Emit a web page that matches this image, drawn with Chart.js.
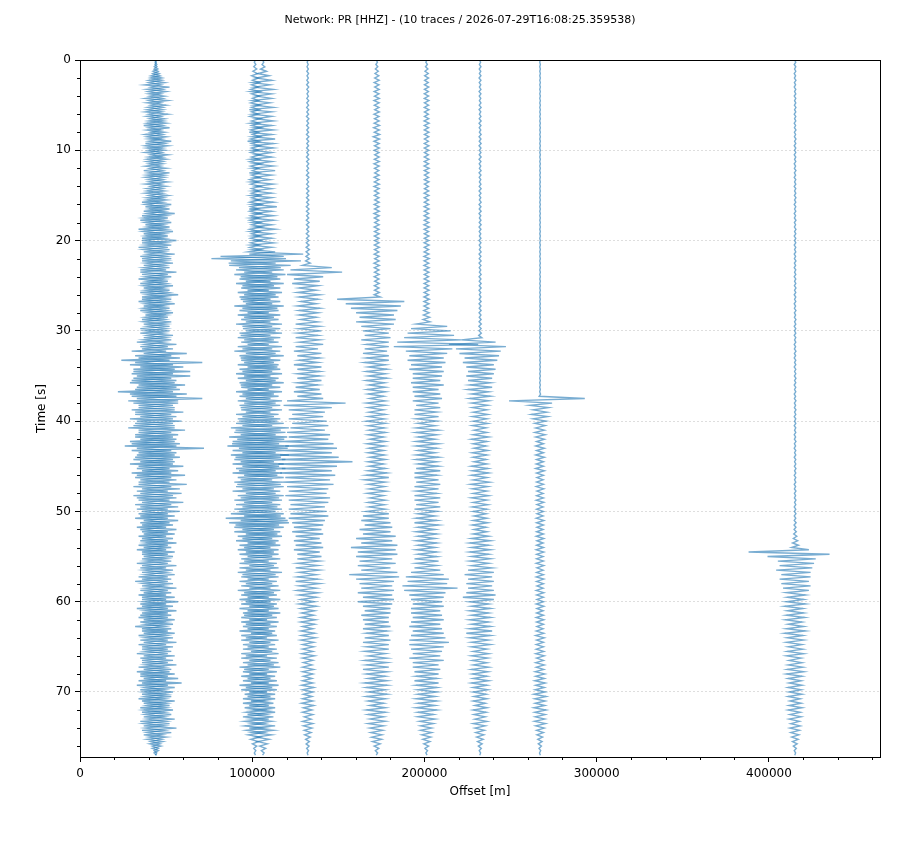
<!DOCTYPE html>
<html>
<head>
<meta charset="utf-8">
<script src="https://cdn.jsdelivr.net/npm/chart.js@4.4.1/dist/chart.umd.min.js"></script>
<style>
  html, body { margin: 0; padding: 0; background: #fff; }
</style>
</head>
<body>
<canvas id="chart" width="920" height="860"></canvas>
<script>
const title = "Network: PR [HHZ] - (10 traces / 2026-07-29T16:08:25.359538)";

// station offsets in m, one per trace
const offsets = [44000, 44000, 101600, 106300, 132200, 172300, 201200, 232300, 267100, 415200];

// sample spacing of the swings below, in s
const dt = 0.25;

// swing size of each trace, in km of offset, every 0.25 s from 0 to 77 s (one row = 5 s)
const trace1a = [
  0.3, 0.4, 0.6, 0.9, 1.2, 1.6, 2, 2.8, 3.5, 4, 5, 6.5, 8, 5, 6, 4, 5, 6, 7, 5,
  6, 4.5, 4, 6, 7, 5, 5, 4, 6, 7, 8, 5, 5, 6, 6, 4, 9, 6, 7, 5,
  5, 6, 7, 4, 6, 5, 4, 6, 6, 7, 8, 5, 5, 4, 7, 6, 6, 5, 5, 6,
  7, 5, 6, 8, 9, 6, 8, 7, 11, 8, 7, 9, 9, 6, 8, 10, 10, 7, 7, 8,
  12, 8, 9, 10, 8, 7, 11, 9, 9, 8, 10, 7, 8, 9, 12, 8, 9, 10, 7, 9,
  10, 7, 8, 9, 13, 8, 9, 10, 11, 7, 8, 9, 10, 6, 7, 8, 9, 7, 8, 9,
  8, 9, 10, 7, 9, 11, 12, 9, 10, 14, 18, 12, 14, 20, 27, 15, 16, 13, 20, 14,
  20, 13, 12, 15, 17, 11, 14, 22, 18, 14, 27, 16, 13, 10, 11, 14, 16, 12, 12, 15,
  15, 12, 11, 16, 17, 10, 13, 12, 12, 15, 14, 18, 28, 14, 12, 11, 14, 13, 11, 15,
  16, 11, 13, 14, 17, 12, 12, 10, 18, 13, 14, 11, 15, 13, 12, 10, 16, 12, 13, 11,
  14, 10, 11, 12, 13, 9, 10, 11, 12, 8, 11, 10, 10, 9, 12, 10, 9, 11, 11, 8,
  10, 8, 9, 11, 12, 9, 10, 8, 11, 10, 9, 12, 10, 8, 12, 9, 9, 10, 11, 8,
  13, 9, 10, 11, 12, 8, 9, 10, 11, 9, 10, 12, 9, 8, 11, 10, 10, 9, 12, 10,
  10, 8, 9, 11, 11, 9, 10, 8, 12, 10, 9, 11, 11, 9, 13, 10, 15, 11, 11, 9,
  10, 8, 9, 10, 11, 7, 8, 9, 10, 8, 9, 7, 11, 9, 8, 7, 12, 8, 9, 7,
  6, 5, 4, 3.5, 3, 2, 1.5, 1, 0.5
];
const trace1b = [
  0.2, 0.3, 0.5, 0.7, 1, 1.4, 1.8, 2.5, 3, 3.5, 4, 3, 3, 4, 4.5, 3, 3.5, 4, 4, 3,
  3, 4, 5, 3.5, 4, 3, 3.5, 4.5, 5, 4, 4, 3, 3, 4, 5, 3.5, 4, 5, 6, 4,
  4, 3.5, 3, 4, 5, 4, 4, 3, 3.5, 4, 4.5, 5, 6, 4, 4, 3.5, 3, 4, 5, 4,
  4, 4.5, 5, 4, 6, 5, 4, 5, 5, 6, 7, 5, 6, 4.5, 5, 6, 7, 5, 6, 5,
  8, 6, 6, 7, 7, 5, 5, 6, 8, 6, 6, 5, 7, 6, 9, 7, 6, 5, 5, 6,
  7, 5, 6, 7, 5, 6, 8, 6, 6, 5, 7, 6, 5, 6, 6, 5, 7, 6, 5, 6,
  6, 5, 5, 6, 7, 5, 6, 7, 8, 6, 7, 9, 10, 8, 12, 10, 9, 11, 13, 10,
  11, 9, 14, 11, 10, 12, 12, 10, 15, 12, 11, 13, 13, 10, 10, 11, 12, 9, 9, 10,
  11, 10, 13, 11, 10, 9, 12, 10, 9, 11, 14, 12, 11, 9, 10, 11, 12, 10, 9, 10,
  10, 8, 8, 9, 11, 9, 9, 8, 10, 9, 8, 7, 9, 10, 11, 8, 8, 9, 9, 7,
  8, 7, 9, 7, 7, 8, 8, 6, 9, 7, 7, 6, 8, 7, 6, 7, 7, 6, 8, 7,
  7, 6, 6, 7, 8, 6, 7, 6, 6, 7, 8, 7, 7, 5, 6, 7, 7, 6, 8, 6,
  7, 6, 8, 7, 6, 7, 9, 7, 7, 6, 6, 5, 8, 7, 7, 6, 6, 7, 7, 6,
  8, 7, 6, 7, 7, 6, 8, 7, 6, 5, 7, 8, 9, 7, 7, 6, 8, 7, 6, 5,
  7, 6, 6, 5, 8, 6, 5, 6, 7, 5, 6, 5, 5, 6, 7, 5, 6, 5, 5, 4,
  4, 3.5, 3, 2.5, 2, 1.5, 1, 0.6, 0.3
];
const trace2 = [
  0.3, 0.4, 0.5, 0.7, 1, 1.2, 1.5, 2, 2, 1.5, 2.5, 2, 2, 2.5, 3, 2, 2.5, 1.5, 2, 2.5,
  3, 2, 2.5, 2, 2, 3, 3, 2, 2.5, 2, 3.5, 2.5, 2, 1.5, 3, 2.5, 2.5, 2, 3, 2,
  2, 2.5, 3, 2, 2.5, 3, 3.5, 2.5, 2, 1.5, 3, 2, 2.5, 3, 2, 2.5, 3, 2, 2.5, 2,
  3, 2, 2.5, 3, 3.5, 2.5, 2, 3, 3, 2.5, 2.5, 3, 3, 2, 4, 3, 2.5, 2, 3, 2.5,
  3, 2.5, 2.5, 3, 3.5, 4, 28, 20, 18, 14, 12, 15, 15, 11, 10, 12, 13, 9, 9, 11,
  11, 8, 8, 10, 12, 9, 9, 7, 10, 12, 13, 9, 8, 10, 11, 8, 9, 11, 10, 7,
  12, 9, 9, 10, 11, 8, 8, 10, 10, 12, 12, 9, 9, 8, 11, 10, 13, 9, 10, 11,
  9, 10, 12, 9, 10, 8, 8, 11, 11, 9, 9, 10, 12, 9, 10, 8, 9, 11, 11, 10,
  13, 11, 10, 14, 15, 12, 12, 15, 17, 13, 14, 16, 19, 13, 12, 14, 15, 12, 11, 13,
  14, 11, 12, 13, 13, 10, 10, 12, 15, 11, 11, 13, 12, 10, 14, 12, 10, 11, 13, 12,
  12, 14, 15, 17, 19, 15, 14, 12, 11, 12, 13, 10, 10, 11, 12, 9, 9, 10, 11, 9,
  10, 8, 8, 9, 11, 9, 9, 10, 12, 8, 8, 9, 10, 8, 9, 10, 11, 8, 8, 9,
  9, 8, 11, 9, 8, 7, 10, 8, 7, 8, 9, 7, 8, 9, 10, 8, 7, 8, 9, 7,
  8, 7, 10, 8, 7, 8, 9, 7, 11, 9, 8, 7, 7, 8, 9, 7, 8, 9, 10, 8,
  7, 6, 9, 7, 6, 7, 8, 6, 7, 5, 6, 7, 8, 6, 5, 6, 6, 5, 5, 4,
  3, 2.5, 2, 1.5, 1, 0.7, 0.5, 0.4, 0.3
];
const trace3 = [
  0.3, 0.4, 0.6, 1, 1.5, 2, 3, 3.5, 4, 5, 6, 4, 5, 6, 7, 5, 4, 5, 6, 4,
  5, 6, 8, 5, 6, 5, 4, 6, 7, 5, 5, 6, 8, 5, 6, 7, 9, 6, 5, 6,
  6, 5, 4, 5, 7, 5, 5, 6, 6, 7, 8, 5, 5, 4, 7, 6, 4, 5, 6, 5,
  7, 5, 5, 6, 6, 8, 8, 5, 5, 6, 7, 6, 6, 5, 5, 7, 7, 5, 6, 5,
  5, 6, 7, 5, 6, 7, 8, 12, 30, 22, 20, 16, 14, 12, 11, 13, 13, 10, 10, 12,
  12, 10, 9, 11, 11, 9, 13, 10, 10, 12, 12, 9, 9, 10, 11, 9, 10, 11, 12, 10,
  10, 11, 13, 10, 11, 9, 9, 11, 12, 10, 10, 12, 13, 10, 11, 9, 9, 10, 12, 11,
  11, 9, 10, 12, 13, 10, 9, 11, 12, 9, 10, 11, 11, 10, 13, 11, 10, 9, 12, 10,
  14, 12, 12, 15, 16, 13, 13, 14, 15, 12, 18, 15, 14, 12, 12, 15, 16, 13, 13, 12,
  12, 13, 14, 11, 11, 12, 13, 11, 15, 12, 12, 10, 10, 12, 13, 11, 11, 10, 12, 11,
  14, 12, 11, 13, 13, 15, 16, 12, 12, 10, 10, 11, 12, 9, 9, 10, 11, 9, 10, 9,
  9, 10, 11, 8, 8, 9, 10, 11, 12, 9, 9, 8, 10, 9, 8, 10, 11, 8, 9, 10,
  10, 8, 8, 9, 9, 10, 11, 8, 8, 9, 10, 8, 9, 7, 7, 8, 10, 9, 8, 7,
  9, 8, 7, 9, 10, 8, 8, 9, 9, 10, 11, 8, 8, 7, 9, 8, 7, 9, 10, 8,
  8, 7, 9, 7, 7, 6, 8, 7, 6, 7, 9, 6, 7, 5, 6, 7, 8, 6, 6, 5,
  4, 3.5, 3, 2.5, 2, 1.5, 1, 0.6, 0.3
];
const trace4 = [
  0.2, 0.3, 0.3, 0.4, 0.4, 0.5, 0.5, 0.4, 0.4, 0.5, 0.5, 0.6, 0.6, 0.5, 0.5, 0.4, 0.4, 0.5, 0.6, 0.5,
  0.5, 0.6, 0.6, 0.5, 0.5, 0.7, 0.7, 0.5, 0.5, 0.6, 0.6, 0.5, 0.5, 0.7, 0.7, 0.6, 0.6, 0.5, 0.5, 0.6,
  0.6, 0.5, 0.5, 0.7, 0.7, 0.6, 0.6, 0.5, 0.5, 0.6, 0.6, 0.7, 0.7, 0.5, 0.5, 0.6, 0.6, 0.7, 0.7, 0.6,
  0.6, 0.7, 0.7, 0.6, 0.6, 0.8, 0.8, 0.7, 0.7, 0.6, 0.6, 0.8, 0.8, 0.7, 0.7, 0.6, 0.6, 0.8, 0.8, 0.7,
  0.7, 0.8, 0.8, 0.9, 1, 0.9, 0.8, 1, 1, 1.2, 1.5, 3, 14, 10, 20, 12, 9, 8, 7, 9,
  6, 5, 5, 6, 7, 5, 6, 4, 5, 6, 7, 5, 6, 5, 5, 4, 6, 7, 7, 5,
  8, 6, 6, 7, 7, 5, 9, 7, 6, 8, 8, 6, 7, 5, 6, 8, 8, 6, 7, 6,
  7, 6, 8, 6, 6, 7, 7, 8, 8, 6, 9, 12, 22, 14, 14, 11, 10, 9, 9, 11,
  11, 9, 12, 10, 10, 12, 13, 11, 12, 14, 15, 13, 17, 14, 14, 16, 18, 15, 26, 17,
  17, 15, 14, 16, 16, 13, 13, 15, 15, 12, 12, 11, 11, 13, 13, 11, 12, 10, 10, 11,
  11, 10, 12, 11, 10, 9, 9, 8, 8, 9, 9, 7, 7, 8, 8, 7, 9, 8, 7, 6,
  8, 6, 7, 6, 6, 7, 7, 5, 5, 6, 6, 7, 7, 5, 5, 6, 6, 5, 5, 4,
  4, 5, 5, 4, 4, 3.5, 3.5, 4, 4.5, 4, 4, 3, 3, 4, 4, 3.5, 4.5, 4, 3.5, 3,
  3.5, 3, 3, 3.5, 4, 3, 3, 2.5, 2.5, 3, 3.5, 3, 3, 2.5, 2.5, 3, 3, 3.5, 3.5, 3,
  3, 2.5, 2.5, 3, 3, 3.5, 3.5, 2.5, 2.5, 3, 3, 2, 2, 3, 3, 2.5, 2.5, 2, 2, 1.8,
  1.5, 1.2, 1, 0.9, 0.8, 0.6, 0.5, 0.3, 0.2
];
const trace5 = [
  0.3, 0.4, 0.5, 0.6, 0.8, 0.9, 1, 1.2, 1.2, 1.4, 1.5, 1.3, 1.2, 1.4, 1.5, 1.3, 1.3, 1.5, 1.6, 1.4,
  1.4, 1.3, 1.2, 1.5, 1.6, 1.3, 1.3, 1.4, 1.5, 1.6, 1.8, 1.5, 1.4, 1.7, 2, 1.6, 1.6, 1.4, 1.3, 1.5,
  1.5, 1.3, 1.2, 1.4, 1.4, 1.5, 1.6, 1.4, 1.3, 1.2, 1.2, 1.4, 1.5, 1.3, 1.4, 1.5, 1.6, 1.4, 1.3, 1.2,
  1.4, 1.3, 1.2, 1.4, 1.5, 1.3, 1.3, 1.5, 1.6, 1.4, 1.4, 1.2, 1.2, 1.4, 1.5, 1.3, 1.3, 1.4, 1.4, 1.3,
  1.2, 1.3, 1.4, 1.5, 1.3, 1.2, 1.5, 1.4, 1.2, 1.4, 1.6, 1.5, 1.4, 1.3, 1.3, 1.4, 1.5, 1.3, 1.2, 1.4,
  1.4, 1.3, 1.3, 1.5, 1.5, 2, 23, 16, 18, 14, 15, 12, 12, 10, 10, 11, 12, 10, 9, 8,
  8, 7, 7, 8, 9, 7, 6, 7, 7, 6, 8, 7, 6, 7, 7, 5, 5, 6, 6, 5,
  5, 6, 6, 4.5, 4.5, 5, 5.5, 5, 5, 4, 4, 5, 6, 5, 5, 4, 4.5, 5, 5, 4.5,
  6, 5, 5, 4.5, 4.5, 5, 5, 4, 4, 5, 5.5, 4.5, 4.5, 4, 5, 4.5, 4, 5, 5, 4,
  4.5, 5, 5, 6, 6, 7, 7, 5, 5, 4.5, 4.5, 5.5, 5.5, 4, 4, 5, 5, 4.5, 4.5, 5,
  6, 7, 8, 7, 9, 8, 7, 9, 10, 8, 8, 11, 12, 9, 9, 12, 15, 11, 11, 12,
  12, 9, 10, 11, 11, 8, 9, 12, 16, 13, 12, 10, 10, 9, 9, 10, 11, 9, 8, 10,
  11, 9, 8, 8, 7, 8, 9, 7, 8, 7, 7, 8, 8, 6, 6, 7, 7, 8, 8, 7,
  6, 7, 7, 5, 5, 6, 7, 6, 6, 7, 8, 6, 6, 5, 5, 6, 7, 6, 6, 5,
  5, 6, 6, 5, 5, 4, 4, 5, 6, 5, 5, 4, 4, 5, 5, 4, 4, 3.5, 3.5, 3,
  3, 2.8, 2.5, 2, 1.5, 1.2, 0.8, 0.5, 0.3
];
const trace6 = [
  0.3, 0.4, 0.5, 0.6, 0.8, 0.9, 1, 1.1, 1.2, 1.1, 1, 1.2, 1.3, 1.2, 1.1, 1.3, 1.2, 1.3, 1.4, 1.2,
  1.2, 1.3, 1.4, 1.2, 1.1, 1.2, 1.3, 1.4, 1.5, 1.3, 1.2, 1.3, 1.4, 1.2, 1.3, 1.2, 1.1, 1.3, 1.4, 1.3,
  1.3, 1.2, 1.1, 1.3, 1.4, 1.3, 1.2, 1.4, 1.5, 1.3, 1.3, 1.2, 1.2, 1.3, 1.4, 1.2, 1.1, 1.2, 1.3, 1.4,
  1.4, 1.3, 1.2, 1.3, 1.3, 1.4, 1.5, 1.3, 1.2, 1.4, 1.4, 1.3, 1.3, 1.5, 1.6, 1.4, 1.2, 1.3, 1.4, 1.3,
  1.3, 1.4, 1.5, 1.3, 1.2, 1.4, 1.4, 1.5, 1.6, 1.4, 1.3, 1.5, 1.5, 1.4, 1.4, 1.3, 1.2, 1.4, 1.5, 1.4,
  1.3, 1.4, 1.5, 1.4, 1.2, 1.5, 1.6, 1.5, 1.4, 1.5, 1.3, 1.6, 1.5, 1.8, 1.8, 2, 2, 6, 12, 9,
  14, 11, 16, 13, 20, 17, 30, 19, 15, 12, 12, 10, 10, 11, 11, 9, 9, 10, 10, 8,
  9, 8, 8, 9, 10, 8, 7, 8, 8, 7, 9, 8, 7, 6, 8, 7, 6, 7, 7, 6,
  6, 5, 5, 6, 7, 6, 6, 5, 5, 6, 7, 6, 6, 5, 5, 6, 7, 6, 6, 5,
  7, 6, 8, 7, 6, 7, 7, 6, 8, 7, 7, 6, 6, 7, 8, 7, 7, 6, 8, 7,
  6, 5, 5, 6, 6, 7, 7, 5, 5, 6, 6, 5, 5, 6, 6, 5, 5, 6, 6, 5,
  6, 7, 7, 6, 6, 7, 8, 9, 10, 12, 13, 11, 12, 14, 18, 13, 11, 10, 10, 9,
  9, 8, 10, 9, 8, 9, 9, 8, 10, 9, 8, 10, 9, 8, 10, 9, 11, 10, 13, 10,
  10, 9, 9, 8, 8, 10, 10, 8, 7, 8, 8, 7, 7, 6, 6, 7, 7, 6, 6, 5,
  6, 5, 5, 6, 6, 5, 5, 6, 6, 5, 4, 5, 5, 4, 4, 3.5, 3, 3.5, 3, 2.8,
  2.5, 2.2, 2, 1.6, 1.2, 0.9, 0.6, 0.4, 0.3
];
const trace7 = [
  0.3, 0.3, 0.4, 0.5, 0.5, 0.4, 0.4, 0.5, 0.6, 0.5, 0.5, 0.4, 0.4, 0.5, 0.6, 0.5, 0.5, 0.4, 0.4, 0.5,
  0.5, 0.6, 0.6, 0.4, 0.4, 0.5, 0.5, 0.6, 0.6, 0.5, 0.5, 0.4, 0.4, 0.6, 0.6, 0.5, 0.5, 0.6, 0.6, 0.5,
  0.4, 0.5, 0.5, 0.6, 0.6, 0.5, 0.5, 0.4, 0.4, 0.6, 0.6, 0.5, 0.5, 0.4, 0.4, 0.5, 0.5, 0.6, 0.6, 0.5,
  0.5, 0.4, 0.4, 0.6, 0.6, 0.5, 0.5, 0.6, 0.6, 0.4, 0.4, 0.5, 0.5, 0.6, 0.6, 0.5, 0.5, 0.4, 0.4, 0.5,
  0.6, 0.5, 0.5, 0.4, 0.4, 0.6, 0.6, 0.5, 0.5, 0.6, 0.6, 0.5, 0.5, 0.4, 0.4, 0.6, 0.6, 0.5, 0.5, 0.6,
  0.5, 0.6, 0.6, 0.4, 0.4, 0.5, 0.5, 0.6, 0.6, 0.5, 0.5, 0.6, 0.6, 0.5, 0.5, 0.6, 0.6, 0.7, 0.7, 0.6,
  0.6, 0.7, 0.8, 1, 11, 9, 18, 15, 14, 12, 12, 11, 9, 10, 10, 8, 8, 9, 7, 8,
  8, 7, 7, 6, 6, 7, 7, 5, 5, 6, 6, 5, 5, 4.5, 4.5, 4, 4, 4.5, 4.5, 4,
  4, 4.5, 4.5, 3.5, 3.5, 4, 4, 5, 5, 4, 4, 3.5, 3.5, 4.5, 4.5, 4, 4, 3.5, 3.5, 4,
  5, 4.5, 4.5, 5, 5, 4, 4, 5.5, 5.5, 4.5, 4.5, 4, 4, 5, 5, 4, 4, 4.5, 4.5, 4,
  4, 3.5, 3.5, 4, 4, 4.5, 4.5, 3.5, 3.5, 4, 4, 5, 5, 6, 6, 5, 5, 6, 6, 5,
  5, 6, 6, 5, 5, 7, 7, 8, 9, 7, 7, 8, 8, 7, 7, 8, 8, 9, 10, 8,
  6, 5, 5, 6, 6, 5, 5, 6, 6, 5, 5, 6, 6, 7, 8, 6, 6, 5, 5, 6,
  5, 4, 4, 5, 5, 4.5, 4.5, 4, 4, 5, 5, 4.5, 4.5, 4, 4, 5, 5, 4, 4, 4.5,
  4, 3.5, 3.5, 4, 4, 3, 3, 4, 4, 3.5, 3.5, 3, 3, 4, 4, 3, 3, 2.5, 2.5, 2.2,
  2, 1.8, 1.5, 1.2, 1, 0.7, 0.5, 0.3, 0.2
];
const trace8 = [
  0.1, 0.15, 0.2, 0.15, 0.2, 0.15, 0.2, 0.15, 0.2, 0.15, 0.2, 0.15, 0.2, 0.15, 0.2, 0.15, 0.2, 0.15, 0.2, 0.15,
  0.2, 0.15, 0.2, 0.15, 0.2, 0.15, 0.2, 0.15, 0.2, 0.15, 0.2, 0.15, 0.2, 0.15, 0.2, 0.15, 0.2, 0.15, 0.2, 0.15,
  0.2, 0.15, 0.2, 0.15, 0.2, 0.15, 0.2, 0.15, 0.2, 0.15, 0.2, 0.15, 0.2, 0.15, 0.2, 0.15, 0.2, 0.15, 0.2, 0.15,
  0.2, 0.15, 0.2, 0.15, 0.2, 0.15, 0.2, 0.15, 0.2, 0.15, 0.2, 0.15, 0.2, 0.15, 0.2, 0.15, 0.2, 0.15, 0.2, 0.15,
  0.2, 0.15, 0.2, 0.15, 0.2, 0.15, 0.2, 0.15, 0.2, 0.15, 0.2, 0.15, 0.2, 0.15, 0.2, 0.15, 0.2, 0.15, 0.2, 0.15,
  0.2, 0.15, 0.2, 0.15, 0.2, 0.15, 0.2, 0.15, 0.2, 0.15, 0.2, 0.15, 0.2, 0.15, 0.2, 0.15, 0.2, 0.15, 0.2, 0.15,
  0.2, 0.15, 0.2, 0.15, 0.2, 0.15, 0.2, 0.15, 0.2, 0.15, 0.2, 0.15, 0.2, 0.15, 0.2, 0.15, 0.2, 0.15, 0.2, 0.15,
  0.2, 0.2, 0.2, 0.2, 0.2, 0.2, 0.2, 0.2, 0.3, 0.5, 26, 18, 7, 6, 5, 4, 4, 5, 4.5, 4,
  3.5, 3, 3, 2.5, 2.5, 3, 3, 2.5, 2.5, 2, 2, 2.5, 2.5, 2, 2, 2.5, 2.5, 2, 2, 2.2,
  2, 2.5, 2.5, 2, 2, 1.8, 1.8, 2, 2, 2.2, 2.2, 1.8, 1.8, 2, 2, 2.2, 2.2, 1.8, 1.8, 2,
  2, 1.8, 1.8, 2.2, 2.2, 2, 2, 1.8, 1.8, 2, 2, 2.2, 2.2, 1.8, 1.8, 2, 2, 2.2, 2.2, 2,
  1.8, 2, 2, 2.2, 2.2, 1.8, 1.8, 2, 2, 2.2, 2.2, 2, 2, 1.8, 1.8, 2.2, 2.2, 2, 2, 1.8,
  2, 2.2, 2.2, 1.8, 1.8, 2, 2, 2.2, 2.2, 2, 2, 1.8, 1.8, 2.2, 2.2, 2.5, 2.5, 2, 2, 2.2,
  2, 2.2, 2.2, 2.5, 2.5, 2, 2, 2.5, 2.5, 2.2, 2.2, 2.8, 2.8, 2.5, 2.5, 3, 3, 2.5, 2.5, 2.8,
  3, 3.5, 3.5, 3, 3, 2.8, 2.8, 3.5, 3.5, 3, 3, 2.8, 2.8, 3.2, 3.2, 2.5, 2.5, 2, 2, 1.8,
  1.5, 1.3, 1.2, 1, 0.8, 0.6, 0.4, 0.3, 0.2
];
const trace10 = [
  0.3, 0.4, 0.5, 0.4, 0.3, 0.4, 0.5, 0.3, 0.4, 0.5, 0.4, 0.3, 0.5, 0.4, 0.3, 0.4, 0.5, 0.4, 0.3, 0.4,
  0.4, 0.5, 0.3, 0.4, 0.5, 0.4, 0.3, 0.4, 0.5, 0.3, 0.4, 0.5, 0.4, 0.3, 0.4, 0.5, 0.3, 0.4, 0.5, 0.4,
  0.3, 0.4, 0.5, 0.4, 0.3, 0.4, 0.5, 0.3, 0.4, 0.5, 0.4, 0.3, 0.5, 0.4, 0.3, 0.4, 0.5, 0.4, 0.3, 0.4,
  0.4, 0.5, 0.3, 0.4, 0.5, 0.4, 0.3, 0.4, 0.5, 0.3, 0.4, 0.5, 0.4, 0.3, 0.4, 0.5, 0.3, 0.4, 0.5, 0.4,
  0.3, 0.4, 0.5, 0.4, 0.3, 0.4, 0.5, 0.3, 0.4, 0.5, 0.4, 0.3, 0.5, 0.4, 0.3, 0.4, 0.5, 0.4, 0.3, 0.4,
  0.4, 0.5, 0.3, 0.4, 0.5, 0.4, 0.3, 0.4, 0.5, 0.3, 0.4, 0.5, 0.4, 0.3, 0.4, 0.5, 0.3, 0.4, 0.5, 0.4,
  0.3, 0.4, 0.5, 0.4, 0.3, 0.4, 0.5, 0.3, 0.4, 0.5, 0.4, 0.3, 0.5, 0.4, 0.3, 0.4, 0.5, 0.4, 0.3, 0.4,
  0.4, 0.5, 0.3, 0.4, 0.5, 0.4, 0.3, 0.4, 0.5, 0.3, 0.4, 0.5, 0.4, 0.3, 0.4, 0.5, 0.3, 0.4, 0.5, 0.4,
  0.3, 0.4, 0.5, 0.4, 0.3, 0.4, 0.5, 0.3, 0.4, 0.5, 0.4, 0.3, 0.5, 0.4, 0.3, 0.4, 0.5, 0.4, 0.3, 0.4,
  0.4, 0.5, 0.3, 0.4, 0.5, 0.4, 0.3, 0.4, 0.5, 0.3, 0.4, 0.5, 0.4, 0.3, 0.4, 0.5, 0.3, 0.4, 0.5, 0.4,
  0.4, 0.5, 0.5, 0.4, 0.5, 0.6, 0.6, 0.5, 0.6, 0.7, 0.8, 1, 1, 1.5, 1.5, 2, 2, 8, 27, 20,
  16, 12, 10, 11, 9, 10, 11, 9, 8, 9, 9, 8, 8, 9, 7, 8, 5, 6, 4.5, 5,
  5, 6, 6, 4.5, 4.5, 5, 5, 5.5, 5.5, 4, 4, 5, 5, 6, 6, 4.5, 4.5, 5, 5, 4,
  4, 4.5, 4.5, 5, 5, 3.5, 3.5, 4, 4, 4.5, 4.5, 5, 5, 4, 4, 3.5, 3.5, 4, 4, 3.5,
  3.5, 4, 4, 3, 3, 3.5, 3.5, 4, 4, 3, 3, 3.5, 3.5, 2.5, 2.5, 3, 3, 2.5, 2.5, 2.2,
  2, 1.8, 1.5, 1.2, 1, 0.7, 0.5, 0.3, 0.2
];

const traces = [trace1a, trace1b, trace2, trace3, trace4, trace5, trace6, trace7, trace8, trace10];

const xTicks = [0, 100000, 200000, 300000, 400000];
const xMinor = [20000, 40000, 60000, 80000, 120000, 140000, 160000, 180000,
  220000, 240000, 260000, 280000, 320000, 340000, 360000, 380000, 420000, 440000, 460000];
const yTicks = [0, 10, 20, 30, 40, 50, 60, 70];
const yMinor = [2, 4, 6, 8, 12, 14, 16, 18, 22, 24, 26, 28, 32, 34, 36, 38,
  42, 44, 46, 48, 52, 54, 56, 58, 62, 64, 66, 68, 72, 74, 76];

const font = "DejaVu Sans";

// consecutive samples swing to alternate sides of the station offset
function wiggle(amps, off, phase) {
  return amps.map((a, i) => ({
    x: off + ((i + phase) % 2 ? -1 : 1) * a * 1000,
    y: i * dt,
  }));
}

const frame = {
  id: "frame",
  afterDraw(chart) {
    const { ctx, chartArea: a, scales } = chart;
    ctx.save();
    ctx.strokeStyle = "#000";
    ctx.lineWidth = 1;
    // minor ticks
    ctx.beginPath();
    xMinor.forEach((v) => {
      const px = Math.round(scales.x.getPixelForValue(v)) + 0.5;
      ctx.moveTo(px, a.bottom);
      ctx.lineTo(px, a.bottom + 3);
    });
    yMinor.forEach((v) => {
      const py = Math.round(scales.y.getPixelForValue(v)) + 0.5;
      ctx.moveTo(a.left, py);
      ctx.lineTo(a.left - 3, py);
    });
    ctx.stroke();
    ctx.strokeRect(Math.round(a.left) + 0.5, Math.round(a.top) + 0.5,
      Math.round(a.right - a.left), Math.round(a.bottom - a.top));
    // figure title
    ctx.fillStyle = "#000";
    ctx.font = "11px " + font;
    ctx.textAlign = "center";
    ctx.textBaseline = "middle";
    ctx.fillText(title, 460, 20);
    ctx.restore();
  },
};

const ctx = document.getElementById("chart").getContext("2d");
new Chart(ctx, {
  type: "scatter",
  data: {
    datasets: traces.map((amps, k) => ({
      data: wiggle(amps, offsets[k], k % 2),
      showLine: true,
      borderColor: "rgba(31,119,180,0.6)",
      borderWidth: 1.4,
      pointRadius: 0,
      pointHoverRadius: 0,
      fill: false,
      tension: 0,
    })),
  },
  options: {
    responsive: false,
    animation: false,
    devicePixelRatio: 1,
    events: [],
    layout: { padding: { top: 60, right: 40, left: 0, bottom: 0 } },
    plugins: { legend: { display: false }, tooltip: { enabled: false } },
    scales: {
      x: {
        type: "linear",
        min: 0,
        max: 464500,
        afterFit: (s) => { s.height = 103; },
        afterBuildTicks: (s) => { s.ticks = xTicks.map((v) => ({ value: v })); },
        ticks: {
          color: "#000",
          font: { family: font, size: 12 },
          padding: 5,
          maxRotation: 0,
          autoSkip: false,
          callback: (v) => String(v),
        },
        grid: { drawOnChartArea: false, tickLength: 5, tickColor: "#000" },
        border: { color: "#000", width: 1 },
        title: {
          display: true,
          text: "Offset [m]",
          color: "#000",
          font: { family: font, size: 12 },
          padding: { top: 0, bottom: 61 },
        },
      },
      y: {
        type: "linear",
        reverse: true,
        min: 0,
        max: 77.2,
        afterFit: (s) => { s.width = 80; },
        afterBuildTicks: (s) => { s.ticks = yTicks.map((v) => ({ value: v })); },
        ticks: {
          color: "#000",
          font: { family: font, size: 12 },
          padding: 4,
          autoSkip: false,
          callback: (v) => String(v),
        },
        grid: { color: "rgba(0,0,0,0.13)", lineWidth: 1, tickLength: 5, tickColor: "#000" },
        border: { color: "#000", width: 1, dash: [2, 2] },
        title: {
          display: true,
          text: "Time [s]",
          color: "#000",
          font: { family: font, size: 12 },
          padding: { top: 35, bottom: 0 },
        },
      },
    },
  },
  plugins: [frame],
});
</script>
</body>
</html>
